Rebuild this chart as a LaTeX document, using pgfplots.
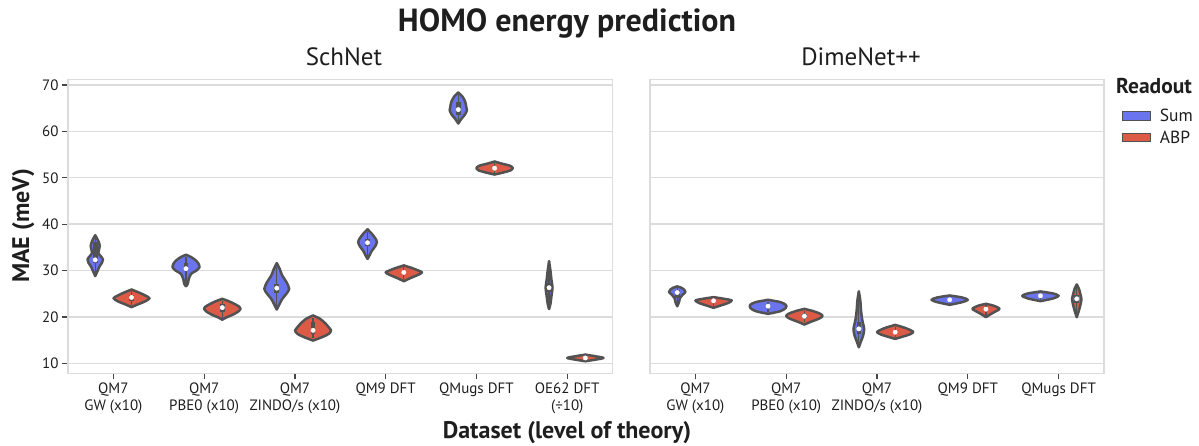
\documentclass[border=0pt]{standalone}
\usepackage{fontspec}
\setmainfont{PT Sans}
\usepackage{pgfplots}
\usepackage{pgfplotstable}
\pgfplotsset{compat=1.18}
\usepgfplotslibrary{fillbetween}

\definecolor{sumblue}{RGB}{106,116,238}
\definecolor{abpred}{RGB}{221,91,70}
\definecolor{vgray}{RGB}{82,82,82}
\definecolor{gridgray}{RGB}{220,220,220}
\definecolor{tickgray}{RGB}{70,70,70}
\definecolor{txt}{RGB}{30,30,30}

% ---------- violin profiles: y (MAE), w (half width in category units) ----------
\pgfplotstableread{
y w
37.6 0
37.0 0.018
36.3 0.036
35.3 0.050
34.5 0.042
33.8 0.034
33.1 0.060
32.4 0.085
31.7 0.075
30.9 0.048
29.9 0.025
28.8 0
}\vtLaS
\pgfplotstableread{
y w
25.9 0
25.3 0.076
24.6 0.153
24.0 0.198
23.3 0.145
22.7 0.069
22.1 0
}\vtLaA
\pgfplotstableread{
y w
33.4 0
32.9 0.057
32.2 0.107
31.5 0.137
30.7 0.148
30.0 0.115
29.3 0.057
28.2 0.031
27.1 0.019
26.6 0
}\vtLbS
\pgfplotstableread{
y w
23.9 0
23.4 0.069
22.8 0.134
22.24 0.183
21.74 0.2
21.1 0.172
20.4 0.107
19.9 0.046
19.4 0
}\vtLbA
\pgfplotstableread{
y w
31.6 0
30.4 0.031
28.9 0.061
27.5 0.107
26.06 0.137
25.0 0.107
23.9 0.061
22.8 0.031
21.6 0
}\vtLcS
\pgfplotstableread{
y w
20.3 0
19.6 0.076
18.64 0.134
17.78 0.172
17.06 0.198
16.34 0.172
15.6 0.095
14.9 0
}\vtLcA
\pgfplotstableread{
y w
38.9 0
37.95 0.046
37.0 0.084
36.15 0.103
35.2 0.084
34.2 0.046
33.3 0.023
32.5 0
}\vtLdS
\pgfplotstableread{
y w
31.1 0
30.5 0.095
30.0 0.16
29.6 0.2
29.1 0.16
28.4 0.076
27.7 0
}\vtLdA
\pgfplotstableread{
y w
68.4 0
67.5 0.046
66.4 0.076
65.3 0.088
64.6 0.095
63.7 0.076
62.8 0.038
61.7 0
}\vtLeS
\pgfplotstableread{
y w
53.5 0
53.07 0.076
52.57 0.172
52.06 0.2
51.56 0.172
51.13 0.095
50.7 0
}\vtLeA
\pgfplotstableread{
y w
32.0 0
30.0 0.015
27.9 0.027
26.3 0.038
24.6 0.027
22.8 0.015
21.7 0
}\vtLfS
\pgfplotstableread{
y w
11.87 0
11.5 0.115
11.15 0.2
10.8 0.115
10.44 0
}\vtLfA
% right panel
\pgfplotstableread{
y w
26.57 0
26.28 0.047
25.85 0.078
25.34 0.09
24.77 0.059
24.1 0.031
23.2 0.02
22.3 0
}\vtRaS
\pgfplotstableread{
y w
24.26 0
23.9 0.118
23.54 0.2
22.97 0.157
22.46 0.078
21.96 0
}\vtRaA
\pgfplotstableread{
y w
23.68 0
23.18 0.137
22.6 0.196
21.96 0.196
21.24 0.137
20.66 0
}\vtRbS
\pgfplotstableread{
y w
21.74 0
21.24 0.098
20.66 0.176
20.16 0.2
19.58 0.157
19.0 0.078
18.36 0
}\vtRbA
\pgfplotstableread{
y w
25.49 0
23.54 0.016
21.38 0.024
19.2 0.039
17.42 0.059
15.98 0.047
14.75 0.024
13.46 0
}\vtRcS
\pgfplotstableread{
y w
18.28 0
17.63 0.11
17.06 0.176
16.7 0.2
16.2 0.157
15.76 0.086
15.26 0
}\vtRcA
\pgfplotstableread{
y w
24.62 0
24.19 0.137
23.68 0.2
23.18 0.137
22.6 0
}\vtRdS
\pgfplotstableread{
y w
22.82 0
22.46 0.078
22.03 0.13
21.67 0.149
21.1 0.098
20.44 0.039
19.94 0
}\vtRdA
\pgfplotstableread{
y w
25.49 0
25.06 0.137
24.55 0.2
23.97 0.137
23.4 0
}\vtReS
\pgfplotstableread{
y w
27.0 0
26.06 0.024
24.98 0.039
23.9 0.051
22.82 0.043
21.38 0.024
19.94 0
}\vtReA

% #1 centre, #2 colour, #3 table, #4 id
\newcommand{\violin}[4]{%
  \addplot[draw=none, smooth, name path=vr#4, forget plot] table[x expr=#1+\thisrow{w}, y=y] {#3};
  \addplot[draw=none, smooth, name path=vl#4, forget plot] table[x expr=#1-\thisrow{w}, y=y] {#3};
  \addplot[fill=#2, draw=none, forget plot] fill between[of=vr#4 and vl#4];
  \addplot[draw=vgray, line width=2.5pt, line cap=round, line join=round, smooth, forget plot] table[x expr=#1+\thisrow{w}, y=y] {#3};
  \addplot[draw=vgray, line width=2.5pt, line cap=round, line join=round, smooth, forget plot] table[x expr=#1-\thisrow{w}, y=y] {#3};
}
% #1 centre, #2 lower whisker, #3 q1, #4 median, #5 q3, #6 upper whisker
\newcommand{\innerbox}[6]{%
  \addplot[vgray, line width=1.3pt, forget plot] coordinates {(#1,#2) (#1,#6)};
  \addplot[vgray, line width=4.6pt, forget plot] coordinates {(#1,#3) (#1,#5)};
  \addplot[only marks, mark=*, mark size=2.2pt, mark options={fill=white, draw=white}, forget plot] coordinates {(#1,#4)};
}

\pgfplotsset{
  vstyle/.style={
    scale only axis, height=293.8pt,
    ymin=7.84, ymax=71.19,
    ytick={10,20,...,70},
    axis line style={draw=gridgray, line width=1.3pt},
    ymajorgrids, grid style={draw=gridgray, line width=1.3pt},
    tick align=outside, tick pos=left,
    major tick length=6pt,
    tick style={draw=tickgray, line width=1.2pt},
    /pgf/number format/assume math mode=true,
    ticklabel style={font=\fontsize{15}{17}\selectfont, text=txt},
    xticklabel style={align=center},
  }
}

\begin{document}
\begin{tikzpicture}
\path (0pt,0pt) rectangle (1199pt,445pt);

\begin{axis}[vstyle, at={(68pt,71.7pt)}, anchor=south west, width=544.6pt,
  xmin=-0.5, xmax=5.5, xtick={0,1,2,3,4,5},
  xticklabels={{QM7\\GW (x10)},{QM7\\PBE0 (x10)},{QM7\\ZINDO/s (x10)},{QM9 DFT},{QMugs DFT},{OE62 DFT\\(÷10)}}]
  \violin{-0.2}{sumblue}{\vtLaS}{la}
  \innerbox{-0.2}{29.3}{31.6}{32.3}{36.2}{37.1}
  \violin{0.2}{abpred}{\vtLaA}{lb}
  \innerbox{0.2}{22.5}{23.4}{24.2}{24.8}{25.5}
  \violin{0.8}{sumblue}{\vtLbS}{lc}
  \innerbox{0.8}{27.1}{29.8}{30.4}{31.7}{32.9}
  \violin{1.2}{abpred}{\vtLbA}{ld}
  \innerbox{1.2}{19.8}{21.0}{22.0}{22.7}{23.5}
  \violin{1.8}{sumblue}{\vtLcS}{le}
  \innerbox{1.8}{22.4}{25.2}{26.2}{27.1}{30.8}
  \violin{2.2}{abpred}{\vtLcA}{lf}
  \innerbox{2.2}{15.4}{16.4}{17.1}{18.8}{19.8}
  \violin{2.8}{sumblue}{\vtLdS}{lg}
  \innerbox{2.8}{33.2}{35.3}{36.0}{36.7}{38.3}
  \violin{3.2}{abpred}{\vtLdA}{lh}
  \innerbox{3.2}{28.1}{29.3}{29.6}{30.0}{30.7}
  \violin{3.8}{sumblue}{\vtLeS}{li}
  \innerbox{3.8}{62.3}{63.6}{64.7}{66.3}{68.0}
  \violin{4.2}{abpred}{\vtLeA}{lj}
  \innerbox{4.2}{51.0}{51.8}{52.06}{52.35}{53.2}
  \violin{4.8}{sumblue}{\vtLfS}{lk}
  \innerbox{4.8}{22.5}{25.4}{26.3}{27.4}{31.2}
  \violin{5.2}{abpred}{\vtLfA}{ll}
  \innerbox{5.2}{10.6}{11.0}{11.15}{11.3}{11.7}
\end{axis}

\begin{axis}[vstyle, at={(650pt,71.7pt)}, anchor=south west, width=454pt,
  xmin=-0.5, xmax=4.5, xtick={0,1,2,3,4},
  xticklabels={{QM7\\GW (x10)},{QM7\\PBE0 (x10)},{QM7\\ZINDO/s (x10)},{QM9 DFT},{QMugs DFT}},
  yticklabels={}, ytick style={draw=none},
  legend style={at={(1.033,0.913)}, anchor=north west, draw=none, fill=none,
    font=\fontsize{17.5}{21}\selectfont, text=txt, row sep=3.4pt},
  legend cell align=left]
  \violin{-0.2}{sumblue}{\vtRaS}{ra}
  \innerbox{-0.2}{22.7}{24.0}{25.27}{25.8}{26.2}
  \violin{0.2}{abpred}{\vtRaA}{rb}
  \innerbox{0.2}{22.3}{23.2}{23.47}{23.8}{24.0}
  \violin{0.8}{sumblue}{\vtRbS}{rc}
  \innerbox{0.8}{21.0}{21.9}{22.32}{22.8}{23.3}
  \violin{1.2}{abpred}{\vtRbA}{rd}
  \innerbox{1.2}{18.8}{19.7}{20.16}{20.6}{21.3}
  \violin{1.8}{sumblue}{\vtRcS}{re}
  \innerbox{1.8}{14.2}{16.3}{17.42}{18.9}{24.5}
  \violin{2.2}{abpred}{\vtRcA}{rf}
  \innerbox{2.2}{15.6}{16.4}{16.7}{17.0}{17.8}
  \violin{2.8}{sumblue}{\vtRdS}{rg}
  \innerbox{2.8}{22.9}{23.4}{23.68}{23.9}{24.3}
  \violin{3.2}{abpred}{\vtRdA}{rh}
  \innerbox{3.2}{20.3}{21.3}{21.67}{22.0}{22.5}
  \violin{3.8}{sumblue}{\vtReS}{ri}
  \innerbox{3.8}{23.7}{24.3}{24.55}{24.8}{25.2}
  \violin{4.2}{abpred}{\vtReA}{rj}
  \innerbox{4.2}{20.7}{22.9}{23.9}{24.8}{26.4}
  \addlegendimage{legend image code/.code={\draw[fill=sumblue, draw=vgray, line width=1pt] (0pt,-4.3pt) rectangle (28pt,4.3pt); \path (35pt,0pt);}}
  \addlegendentry{Sum}
  \addlegendimage{legend image code/.code={\draw[fill=abpred, draw=vgray, line width=1pt] (0pt,-4.3pt) rectangle (28pt,4.3pt); \path (35pt,0pt);}}
  \addlegendentry{ABP}
\end{axis}

\node[anchor=base, font=\bfseries\fontsize{32}{37}\selectfont, text=txt, inner sep=0pt] at (567pt,413.5pt) {HOMO energy prediction};
\node[anchor=base, font=\fontsize{25}{30}\selectfont, text=txt, inner sep=0pt] at (344pt,379pt) {SchNet};
\node[anchor=base, font=\fontsize{25}{30}\selectfont, text=txt, inner sep=0pt] at (861pt,379pt) {DimeNet++};
\node[anchor=base, font=\bfseries\fontsize{24}{28}\selectfont, text=txt, inner sep=0pt] at (567pt,6.5pt) {Dataset (level of theory)};
\node[anchor=base, rotate=90, font=\bfseries\fontsize{24}{28}\selectfont, text=txt, inner sep=0pt] at (29pt,219pt) {MAE (meV)};
\node[anchor=base west, font=\bfseries\fontsize{21.5}{25}\selectfont, text=txt, inner sep=0pt] at (1116pt,351.7pt) {Readout};
\end{tikzpicture}
\end{document}
